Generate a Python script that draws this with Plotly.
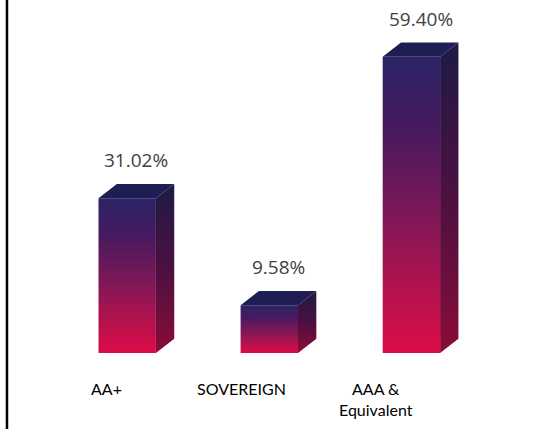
import plotly.graph_objects as go

categories = ["AA+", "SOVEREIGN", "AAA &<br>Equivalent"]
values = [31.02, 9.58, 59.40]
value_labels = ["31.02%", "9.58%", "59.40%"]

# 3D bar geometry (axis units)
HALF_W = 0.202
DX = 0.129
DY = 2.87

FRONT_SCALE = [[0, "#dc0c48"], [0.25, "#ab134f"], [0.5, "#761858"],
               [0.75, "#48195e"], [1, "#2a2466"]]
SIDE_SCALE = [[0, "#8a0c38"], [0.5, "#4c1040"], [1, "#1e1a45"]]
TOP_COLOR = "#1f1e52"

label_shift = [-21, -28, -35]

fig = go.Figure()

for i, v in enumerate(values):
    x0, x1 = i - HALF_W, i + HALF_W
    # front face
    fig.add_trace(go.Scatter(
        x=[x0, x1, x1, x0, x0], y=[0, 0, v, v, 0],
        mode='lines', line=dict(width=0), fill='toself',
        fillgradient=dict(type='vertical', colorscale=FRONT_SCALE),
        hoverinfo='skip', showlegend=False
    ))
    # side face
    fig.add_trace(go.Scatter(
        x=[x1, x1 + DX, x1 + DX, x1, x1], y=[0, DY, v + DY, v, 0],
        mode='lines', line=dict(width=0), fill='toself',
        fillgradient=dict(type='vertical', colorscale=SIDE_SCALE),
        hoverinfo='skip', showlegend=False
    ))
    # top face
    fig.add_trace(go.Scatter(
        x=[x0, x1, x1 + DX, x0 + DX, x0], y=[v, v, v + DY, v + DY, v],
        mode='lines', line=dict(width=0), fill='toself',
        fillcolor=TOP_COLOR,
        hoverinfo='skip', showlegend=False
    ))
    # value label
    fig.add_annotation(
        x=i + DX / 2, y=v + DY, text=value_labels[i],
        showarrow=False, yanchor='bottom', yshift=9,
        font=dict(family="Open Sans", size=19, color="#404040")
    )
    # category label
    fig.add_annotation(
        x=i, y=0, text=categories[i], xshift=label_shift[i],
        showarrow=False, yanchor='top', yshift=-24,
        font=dict(family="Lato", size=16, color="#000000")
    )

# left border line
fig.add_shape(type='line', xref='paper', yref='paper',
              x0=-0.0057, x1=-0.0057, y0=-0.25, y1=1.05,
              line=dict(color='black', width=2.5))

fig.update_layout(
    width=549, height=429,
    margin=dict(l=10, r=10, t=4, b=76),
    paper_bgcolor='white', plot_bgcolor='white',
    xaxis=dict(range=[-0.8248, 2.898], visible=False, fixedrange=True),
    yaxis=dict(range=[0, 70], visible=False, fixedrange=True),
    showlegend=False
)

fig.write_html("out.html", config=dict(displayModeBar=False),
               post_script="document.body.style.margin='0px';")
